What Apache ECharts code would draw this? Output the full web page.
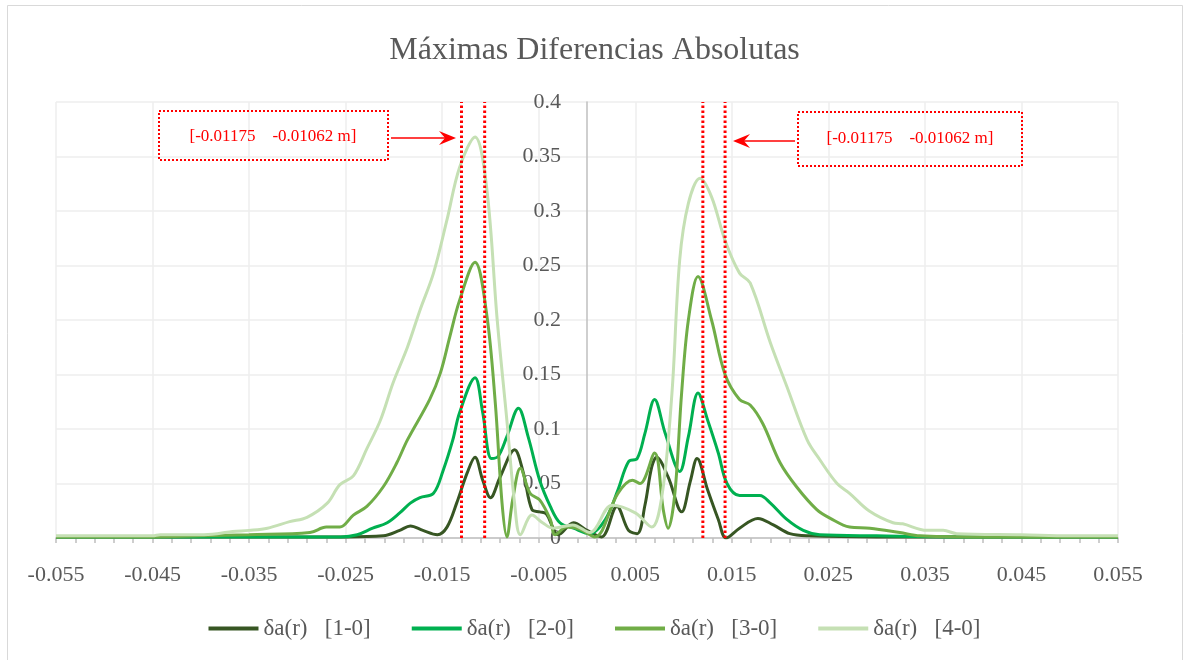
<!DOCTYPE html>
<html>
<head>
<meta charset="utf-8">
<script src="https://cdn.jsdelivr.net/npm/echarts@6/dist/echarts.min.js"></script>
<style>
  html, body { margin: 0; padding: 0; background: #fff; }
  #chart { width: 1189px; height: 660px; }
</style>
</head>
<body>
<div id="chart"></div>
<script>
// δa(r) por par de iteraciones, [x (m), valor]
var names = ['δa(r)   [1-0]', 'δa(r)   [2-0]', 'δa(r)   [3-0]', 'δa(r)   [4-0]'];
var colors = ['#375623', '#00b050', '#70ad47', '#c5e0b4'];

var s10 = [[-0.055,0.001],[-0.040,0.001],[-0.025,0.001],[-0.0211,0.002],[-0.0194,0.007],[-0.0183,0.011],[-0.017,0.007],[-0.0155,0.003],[-0.0145,0.010],[-0.0135,0.032],[-0.0124,0.060],[-0.0116,0.074],[-0.0108,0.053],[-0.010,0.037],[-0.009,0.056],[-0.0075,0.081],[-0.0066,0.060],[-0.0057,0.026],[-0.0049,0.024],[-0.0042,0.022],[-0.0035,0.009],[-0.003,0.003],[-0.0014,0.014],[0.0,0.007],[0.0015,0.001],[0.0031,0.029],[0.0043,0.007],[0.0052,0.004],[0.006,0.030],[0.0067,0.065],[0.0072,0.074],[0.0084,0.056],[0.0098,0.024],[0.0107,0.052],[0.0114,0.073],[0.0125,0.044],[0.0136,0.017],[0.0144,0.000],[0.0158,0.009],[0.0177,0.018],[0.0193,0.012],[0.021,0.004],[0.023,0.002],[0.030,0.001],[0.055,0.001]];

var s20 = [[-0.055,0.001],[-0.040,0.001],[-0.030,0.001],[-0.0255,0.001],[-0.0238,0.003],[-0.0222,0.009],[-0.0207,0.014],[-0.0194,0.023],[-0.0183,0.032],[-0.0173,0.037],[-0.0159,0.041],[-0.0149,0.062],[-0.0139,0.090],[-0.0132,0.115],[-0.0116,0.147],[-0.0108,0.115],[-0.0099,0.073],[-0.0092,0.075],[-0.0083,0.093],[-0.0071,0.119],[-0.0061,0.093],[-0.0049,0.053],[-0.0038,0.029],[-0.0028,0.014],[-0.0014,0.009],[0.0003,0.004],[0.0019,0.017],[0.0032,0.044],[0.0043,0.070],[0.0052,0.073],[0.006,0.096],[0.007,0.127],[0.0081,0.096],[0.0096,0.061],[0.0105,0.093],[0.0115,0.133],[0.0125,0.108],[0.0136,0.078],[0.0145,0.050],[0.0158,0.039],[0.0179,0.039],[0.019,0.032],[0.0207,0.017],[0.0224,0.007],[0.0241,0.003],[0.030,0.002],[0.040,0.001],[0.055,0.001]];

var s30 = [[-0.055,0.001],[-0.045,0.001],[-0.040,0.002],[-0.035,0.003],[-0.0287,0.005],[-0.027,0.010],[-0.0256,0.010],[-0.0242,0.021],[-0.0228,0.029],[-0.0211,0.047],[-0.0197,0.069],[-0.0186,0.090],[-0.0163,0.127],[-0.0152,0.151],[-0.0142,0.185],[-0.0132,0.218],[-0.0116,0.253],[-0.0104,0.206],[-0.0095,0.124],[-0.0088,0.032],[-0.0083,0.001],[-0.0077,0.035],[-0.0069,0.064],[-0.0059,0.041],[-0.0049,0.035],[-0.0038,0.017],[-0.0033,0.003],[-0.0021,0.010],[-0.0007,0.008],[0.0008,0.001],[0.0032,0.041],[0.0047,0.053],[0.0055,0.050],[0.007,0.078],[0.0079,0.026],[0.0084,0.009],[0.0091,0.041],[0.0098,0.133],[0.0105,0.200],[0.0115,0.240],[0.0129,0.200],[0.0143,0.150],[0.0158,0.127],[0.0169,0.122],[0.0182,0.105],[0.020,0.069],[0.0217,0.047],[0.0238,0.026],[0.0252,0.018],[0.0272,0.010],[0.0293,0.009],[0.0324,0.005],[0.0345,0.002],[0.040,0.001],[0.055,0.001]];

var s40 = [[-0.055,0.002],[-0.050,0.002],[-0.045,0.002],[-0.0442,0.003],[-0.040,0.003],[-0.0383,0.004],[-0.0367,0.006],[-0.035,0.007],[-0.0331,0.009],[-0.0308,0.015],[-0.029,0.019],[-0.0269,0.032],[-0.0256,0.049],[-0.0242,0.057],[-0.0228,0.082],[-0.0214,0.108],[-0.0201,0.142],[-0.0186,0.175],[-0.0173,0.209],[-0.0159,0.243],[-0.0145,0.292],[-0.0132,0.340],[-0.0116,0.368],[-0.0104,0.322],[-0.0093,0.200],[-0.0083,0.108],[-0.0075,0.032],[-0.0069,0.003],[-0.0057,0.021],[-0.0046,0.014],[-0.0035,0.009],[-0.0015,0.012],[0.0003,0.005],[0.0026,0.030],[0.005,0.023],[0.0067,0.010],[0.0078,0.041],[0.0088,0.133],[0.0096,0.255],[0.0105,0.307],[0.0117,0.330],[0.0129,0.313],[0.0143,0.273],[0.0158,0.243],[0.0169,0.234],[0.019,0.179],[0.0207,0.139],[0.0228,0.090],[0.0241,0.072],[0.0259,0.050],[0.0272,0.041],[0.0292,0.025],[0.0317,0.014],[0.0327,0.013],[0.0352,0.007],[0.0369,0.007],[0.0383,0.004],[0.045,0.003],[0.050,0.002],[0.055,0.002]];

// líneas de corte (rojas, punteadas)
var cutLines = [-0.0130, -0.0106, 0.0120, 0.0143];
var boxText = '[-0.01175    -0.01062 m]';

var xMin = -0.055, xMax = 0.055, yMin = 0, yMax = 0.4;
var gridL = 56, gridR = 71;

var serif = 'Liberation Serif, Times New Roman, serif';
var gray = '#595959';
var red = '#ff0000';

var chart = echarts.init(document.getElementById('chart'));

var series = [s10, s20, s30, s40].map(function (d, i) {
  return {
    name: names[i],
    type: 'line',
    data: d,
    smooth: 0.35,
    symbol: 'none',
    lineStyle: { color: colors[i], width: 3 },
    itemStyle: { color: colors[i] }
  };
});
cutLines.forEach(function (v, i) {
  series.push({
    name: 'corte' + i,
    type: 'line',
    data: [[v, yMin], [v, yMax]],
    symbol: 'none',
    silent: true,
    z: 5,
    lineStyle: { color: red, width: 3, type: [2.5, 2.5] }
  });
});

function arrow(x1, x2, y) {
  var dir = x2 > x1 ? 1 : -1;
  return [
    { type: 'line', shape: { x1: x1, y1: y, x2: x2 - dir * 8, y2: y }, style: { stroke: red, lineWidth: 1.5 }, z: 100 },
    { type: 'polygon', shape: { points: [[x2, y], [x2 - dir * 17, y - 7], [x2 - dir * 11, y], [x2 - dir * 17, y + 7]] }, style: { fill: red }, z: 100 }
  ];
}

var graphics = [
  { type: 'rect', shape: { x: 7.5, y: 5.5, width: 1175, height: 670 }, style: { fill: 'none', stroke: '#d9d9d9', lineWidth: 1 }, z: -10 },
  { type: 'rect', shape: { x: 159, y: 111, width: 229, height: 49 }, style: { fill: 'none', stroke: red, lineWidth: 2, lineDash: [2, 2] }, z: 100 },
  { type: 'text', x: 273, y: 137, style: { text: boxText, fill: red, font: '17px ' + serif, textAlign: 'center', textVerticalAlign: 'middle' }, z: 101 },
  { type: 'rect', shape: { x: 798, y: 112, width: 224, height: 54 }, style: { fill: 'none', stroke: red, lineWidth: 2, lineDash: [2, 2] }, z: 100 },
  { type: 'text', x: 910, y: 139, style: { text: boxText, fill: red, font: '17px ' + serif, textAlign: 'center', textVerticalAlign: 'middle' }, z: 101 }
].concat(arrow(391, 456, 138)).concat(arrow(795, 733, 141));

// eje Y cruzando en x = 0
var plotW = 1189 - gridL - gridR;
var yAxisShift = plotW * (0 - xMin) / (xMax - xMin);

chart.setOption({
  animation: false,
  backgroundColor: '#fff',
  title: {
    text: 'Máximas Diferencias Absolutas',
    left: 'center',
    top: 30,
    textStyle: { fontFamily: serif, fontSize: 32, fontWeight: 'normal', color: gray }
  },
  legend: {
    data: names,
    left: 'center',
    top: 612,
    icon: 'rect',
    itemWidth: 50,
    itemHeight: 4,
    itemGap: 41,
    textStyle: { fontFamily: serif, fontSize: 23, color: gray }
  },
  grid: { left: gridL, right: gridR, top: 102, bottom: 122, outerBoundsMode: 'none', containLabel: false },
  xAxis: {
    type: 'value',
    min: xMin,
    max: xMax,
    interval: 0.01,
    axisLine: { onZero: false, lineStyle: { color: '#bfbfbf', width: 1.5 } },
    axisTick: { show: true, length: 5, lineStyle: { color: '#bfbfbf', width: 1.5 } },
    minorTick: { show: true, splitNumber: 5, length: 5, lineStyle: { color: '#bfbfbf', width: 1.5 } },
    axisLabel: {
      margin: 26,
      color: gray,
      fontFamily: serif,
      fontSize: 22,
      formatter: function (v) { return v.toFixed(3); }
    },
    splitLine: { show: true, lineStyle: { color: '#eeeeee', width: 1.5 } }
  },
  yAxis: {
    type: 'value',
    min: yMin,
    max: yMax,
    interval: 0.05,
    offset: -yAxisShift,
    axisLine: { show: true, onZero: false, lineStyle: { color: '#bfbfbf', width: 1.5 } },
    axisTick: { show: false },
    axisLabel: {
      margin: 26,
      color: gray,
      fontFamily: serif,
      fontSize: 22,
      formatter: function (v) { return String(parseFloat(v.toFixed(3))); }
    },
    splitLine: { show: true, lineStyle: { color: '#eeeeee', width: 1.5 } }
  },
  series: series,
  graphic: graphics
});
</script>
</body>
</html>
